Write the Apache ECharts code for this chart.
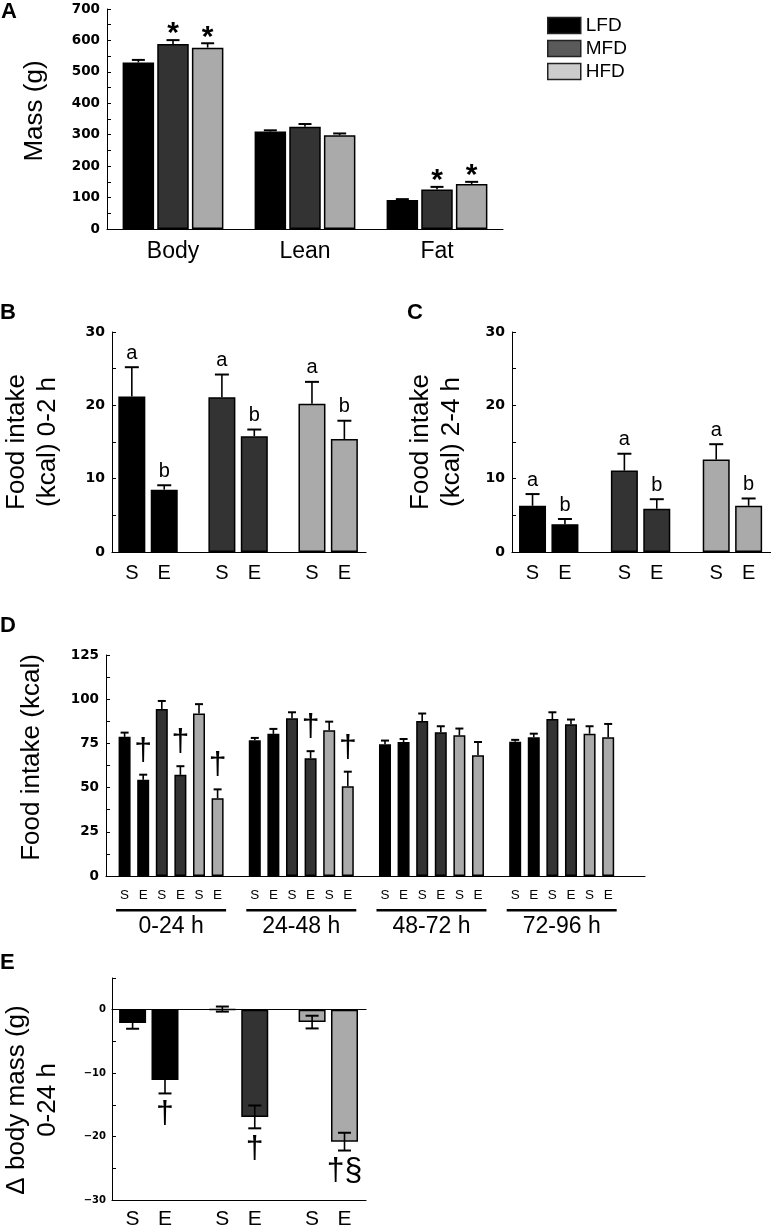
<!DOCTYPE html>
<html><head><meta charset="utf-8">
<script src="https://cdn.jsdelivr.net/npm/echarts@6/dist/echarts.min.js"></script>
<style>html,body{margin:0;padding:0;background:#fff}#c{width:771px;height:1230px}</style>
</head><body><div id="c"></div>
<script>
// ---------------- data ----------------
const diets = ['LFD', 'MFD', 'HFD'];
const barColors = ['#000000', '#333333', '#aaaaaa'];
const legendColors = ['#000000', '#5a5a5a', '#cccccc'];

// Panel A: mass (g)
const aCategories = ['Body', 'Lean', 'Fat'];
const aLFD = [530, 310, 92];
const aLFDerr = [8, 4, 3];
const aMFD = [589, 325, 126];
const aMFDerr = [12, 9, 8];
const aHFD = [577, 298, 143];
const aHFDerr = [14, 6, 7];
const aLFDsig = ['', '', ''];
const aMFDsig = ['*', '', '*'];
const aHFDsig = ['*', '', '*'];

// Panel B: food intake 0-2 h (kcal), S and E per diet
const bS = [21.2, 21.1, 20.2];
const bSerr = [4.0, 3.1, 3.0];
const bE = [8.5, 15.8, 15.4];
const bEerr = [0.6, 0.9, 2.5];
const bSsig = ['a', 'a', 'a'];
const bEsig = ['b', 'b', 'b'];

// Panel C: food intake 2-4 h (kcal)
const cS = [6.3, 11.1, 12.6];
const cSerr = [1.6, 2.3, 2.1];
const cE = [3.8, 5.9, 6.3];
const cEerr = [0.7, 1.3, 1.0];
const cSsig = ['a', 'a', 'a'];
const cEsig = ['b', 'b', 'b'];

// Panel D: daily food intake (kcal)
const dPeriods = ['0-24 h', '24-48 h', '48-72 h', '72-96 h'];
const dLFD_S = [78.7, 76.8, 74.5, 76.0];
const dLFD_Serr = [2.4, 1.3, 2.1, 1.0];
const dLFD_E = [54.5, 80.4, 75.8, 78.5];
const dLFD_Eerr = [2.8, 2.8, 1.7, 2.0];
const dMFD_S = [94.5, 89.2, 87.7, 88.8];
const dMFD_Serr = [4.5, 3.4, 4.2, 3.8];
const dMFD_E = [57.2, 66.6, 81.3, 85.8];
const dMFD_Eerr = [4.9, 4.0, 3.4, 2.7];
const dHFD_S = [91.9, 82.4, 79.6, 80.5];
const dHFD_Serr = [5.3, 4.9, 3.8, 4.2];
const dHFD_E = [44.0, 50.8, 68.3, 78.5];
const dHFD_Eerr = [5.0, 8.2, 7.5, 7.5];
const dLFD_Esig = ['†', '', '', ''];
const dMFD_Esig = ['†', '†', '', ''];
const dHFD_Esig = ['†', '†', '', ''];

// Panel E: change in body mass 0-24 h (g)
const eS = [-2.1, 0.1, -1.95];
const eSerr = [0.9, 0.4, 1.0];
const eE = [-11.1, -16.9, -20.8];
const eEerr = [2.1, 1.8, 1.4];
const eEsig = ['†', '†', '†§'];

// ---------------- helpers ----------------
const SANS = '"Liberation Sans", Arial, Helvetica, sans-serif';
const TICKF = '"DejaVu Sans", sans-serif';

function yAxis(grid, min, max, interval, every, fs, margin, name, nameGap, namePad) {
  return {
    type: 'value', gridIndex: grid, min, max, interval,
    axisLine: { show: true, onZero: false, lineStyle: { color: '#000', width: 1 } },
    axisTick: { show: true, inside: true, length: 4, lineStyle: { color: '#000', width: 1 } },
    splitLine: { show: false },
    axisLabel: {
      margin, fontSize: fs, fontWeight: 'bold', fontFamily: TICKF, color: '#000',
      showMaxLabel: true,
      formatter: v => (Math.abs(v % every) < 1e-9 ? String(v).replace('-', '\u2212') : '')
    },
    name, nameLocation: 'middle', nameRotate: 90, nameGap,
    nameTextStyle: { fontSize: 26, fontFamily: SANS, color: '#000', lineHeight: 31, padding: namePad || 0 }
  };
}
function valueX(grid, min, max, extra) {
  return Object.assign({
    type: 'value', gridIndex: grid, min, max,
    axisLine: { show: true, onZero: true, lineStyle: { color: '#000', width: 1.2 } },
    axisTick: { show: false }, axisLabel: { show: false }, splitLine: { show: false }
  }, extra || {});
}
function barSeries(name, axis, vals, colorOf, bw, gap, lbl, lblFont, lblTop) {
  return {
    type: 'bar', name, xAxisIndex: axis, yAxisIndex: axis,
    barWidth: bw, barGap: gap,
    data: vals.map((v, i) => ({ value: [i, v], itemStyle: { color: colorOf(i) } })),
    itemStyle: { borderColor: '#000', borderWidth: 1.5 },
    label: lbl ? { show: true, formatter: lbl, fontSize: lblFont, fontFamily: SANS, color: '#000' } : { show: false },
    labelLayout: lbl ? (p => ({ x: p.rect.x + p.rect.width / 2, y: lblTop, align: 'center', verticalAlign: 'top' })) : undefined,
    z: 2, silent: true
  };
}
function errSeries(axis, vals, errs, marks, offsetPx, cfg) {
  return {
    type: 'custom', xAxisIndex: axis, yAxisIndex: axis, clip: false, z: 5, silent: true,
    data: vals.map((v, i) => [i, v, errs[i]]),
    renderItem: (params, api) => {
      const x = api.value(0), v = api.value(1), e = api.value(2);
      const p0 = api.coord([x, v]);
      const cx = p0[0] + offsetPx;
      const pos = v >= 0;
      const outer = api.coord([x, pos ? v + e : v - e])[1];
      const inner = cfg.twoSided ? api.coord([x, pos ? v - e : v + e])[1] : p0[1];
      const h = cfg.capW / 2;
      const ch = [
        { type: 'line', shape: { x1: cx, y1: inner, x2: cx, y2: outer }, style: { stroke: '#000', lineWidth: cfg.lw } },
        { type: 'line', shape: { x1: cx - h, y1: outer, x2: cx + h, y2: outer }, style: { stroke: '#000', lineWidth: cfg.capLw } }
      ];
      if (cfg.twoSided) ch.push({ type: 'line', shape: { x1: cx - h, y1: inner, x2: cx + h, y2: inner }, style: { stroke: '#000', lineWidth: cfg.capLw } });
      const m = marks && marks[params.dataIndex];
      if (m) ch.push({ type: 'text', style: {
        text: m, x: cx, y: pos ? outer - cfg.markGap : outer + cfg.markGap,
        textAlign: 'center', textVerticalAlign: 'middle', font: cfg.markFont, fill: '#000' } });
      return { type: 'group', children: ch };
    }
  };
}
function offsets(n, bw, gapRatio) {
  const pitch = bw * (1 + gapRatio);
  return Array.from({ length: n }, (_, k) => (k - (n - 1) / 2) * pitch);
}

// ---------------- layout ----------------
const gA = { left: 107, top: 9, width: 396, height: 220 };
const gB = { left: 107, top: 332, width: 259, height: 220 };
const gC = { left: 512, top: 332, width: 259, height: 220 };
const gD = { left: 106, top: 655, width: 539, height: 221 };
const gE = { left: 107, top: 978, width: 259, height: 222 };

const A_BW = 31.5, A_GAP = 0.10;
const SE_BW = 27, SE_GAP = 0.20;
const D_BW = 12, D_GAP = 0.55;
const aOff = offsets(3, A_BW, A_GAP);
const seOff = offsets(2, SE_BW, SE_GAP);
const dOff = offsets(6, D_BW, D_GAP);

const cfgA = { capW: 13, lw: 1.6, capLw: 2, markGap: 6, markFont: 'bold 30px ' + SANS };
const cfgBC = { capW: 14, lw: 1.6, capLw: 2, markGap: 14, markFont: '20px ' + SANS };
const cfgD = { capW: 8, lw: 1.6, capLw: 2, markGap: 24, markFont: '32px ' + SANS };
const cfgE = { capW: 13, lw: 1.6, capLw: 2, markGap: 21, markFont: '32px ' + SANS, twoSided: true };

const dietColor = i => barColors[i];
const pct = r => Math.round(r * 100) + '%';

const series = [];
// A
[[aLFD, aLFDerr, aLFDsig], [aMFD, aMFDerr, aMFDsig], [aHFD, aHFDerr, aHFDsig]].forEach((s, k) => {
  series.push(barSeries(diets[k], 0, s[0], () => barColors[k], A_BW, pct(A_GAP)));
  series.push(errSeries(0, s[0], s[1], s[2], aOff[k], cfgA));
});
// B
series.push(barSeries('B S', 1, bS, dietColor, SE_BW, pct(SE_GAP), 'S', 20, gB.top + gB.height + 11));
series.push(barSeries('B E', 1, bE, dietColor, SE_BW, pct(SE_GAP), 'E', 20, gB.top + gB.height + 11));
series.push(errSeries(1, bS, bSerr, bSsig, seOff[0], cfgBC));
series.push(errSeries(1, bE, bEerr, bEsig, seOff[1], cfgBC));
// C
series.push(barSeries('C S', 2, cS, dietColor, SE_BW, pct(SE_GAP), 'S', 20, gC.top + gC.height + 11));
series.push(barSeries('C E', 2, cE, dietColor, SE_BW, pct(SE_GAP), 'E', 20, gC.top + gC.height + 11));
series.push(errSeries(2, cS, cSerr, cSsig, seOff[0], cfgBC));
series.push(errSeries(2, cE, cEerr, cEsig, seOff[1], cfgBC));
// D
const dSets = [
  [dLFD_S, dLFD_Serr, null, 0, 'S'], [dLFD_E, dLFD_Eerr, dLFD_Esig, 0, 'E'],
  [dMFD_S, dMFD_Serr, null, 1, 'S'], [dMFD_E, dMFD_Eerr, dMFD_Esig, 1, 'E'],
  [dHFD_S, dHFD_Serr, null, 2, 'S'], [dHFD_E, dHFD_Eerr, dHFD_Esig, 2, 'E']
];
dSets.forEach((s, k) => {
  series.push(barSeries('D ' + diets[s[3]] + ' ' + s[4], 3, s[0], () => barColors[s[3]], D_BW, pct(D_GAP), s[4], 13.5, gD.top + gD.height + 12));
});
dSets.forEach((s, k) => series.push(errSeries(3, s[0], s[1], s[2], dOff[k], cfgD)));
// E
series.push(barSeries('E S', 4, eS, dietColor, SE_BW, pct(SE_GAP), 'S', 21, gE.top + gE.height + 9));
series.push(barSeries('E E', 4, eE, dietColor, SE_BW, pct(SE_GAP), 'E', 21, gE.top + gE.height + 9));
series.push(errSeries(4, eS, eSerr, null, seOff[0], cfgE));
series.push(errSeries(4, eE, eEerr, eEsig, seOff[1], cfgE));

const titleStyle = { fontSize: 22, fontWeight: 'bold', fontFamily: SANS, color: '#000' };
const option = {
  animation: false,
  backgroundColor: '#fff',
  title: [
    { text: 'A', left: 1, top: 1 },
    { text: 'B', left: 0, top: 302 },
    { text: 'C', left: 407, top: 302 },
    { text: 'D', left: 0, top: 615 },
    { text: 'E', left: 0, top: 952 }
  ].map(t => Object.assign(t, { padding: 0, textStyle: titleStyle })),
  legend: {
    orient: 'vertical', left: 547, top: 16, padding: 0,
    itemWidth: 33, itemHeight: 16, itemGap: 4, selectedMode: false,
    textStyle: { fontSize: 19, fontFamily: SANS, color: '#000', lineHeight: 16 },
    data: diets.map((d, i) => ({ name: d, icon: 'rect', itemStyle: { color: legendColors[i], borderColor: '#222', borderWidth: 1.5 } }))
  },
  grid: [gA, gB, gC, gD, gE],
  xAxis: [
    { type: 'category', gridIndex: 0, data: aCategories,
      axisLine: { show: true, lineStyle: { color: '#000', width: 1.2 } }, axisTick: { show: false },
      axisLabel: { fontSize: 23, fontFamily: SANS, color: '#000', margin: 11 } },
    valueX(1, -0.4, 2.42),
    valueX(2, -0.4, 2.42),
    valueX(3, -0.5, 3.64),
    valueX(4, -0.41, 2.42),
    valueX(3, -0.5, 3.64, {
      position: 'bottom', axisLine: { show: false },
      axisLabel: {
        show: true, customValues: dPeriods.map((_, i) => i), margin: 33,
        formatter: v => '{line|}\n{t|' + dPeriods[v] + '}',
        rich: {
          line: { width: 110, height: 2.4, backgroundColor: '#000', align: 'center' },
          t: { fontSize: 23, lineHeight: 31, fontFamily: SANS, color: '#000', align: 'center' }
        }
      }
    }),
    valueX(4, -0.41, 2.42, { position: 'bottom', axisLine: { show: true, onZero: false, lineStyle: { color: '#000', width: 1.2 } } })
  ],
  yAxis: [
    yAxis(0, 0, 700, 50, 100, 13.5, 7, 'Mass (g)', 57, [0, 0, 0, 16]),
    yAxis(1, 0, 30, 5, 10, 14, 7, 'Food intake\n(kcal) 0-2 h', 49),
    yAxis(2, 0, 30, 5, 10, 14, 7, 'Food intake\n(kcal) 2-4 h', 45),
    yAxis(3, 0, 125, 12.5, 25, 13.5, 7, 'Food intake (kcal)', 59, [0, 0, 0, 16]),
    yAxis(4, -30, 5, 5, 10, 10, 6, 'Δ body mass (g)\n0-24 h', 49, [0, 22, 0, 0])
  ],
  series
};
const chart = echarts.init(document.getElementById('c'), null, { renderer: 'canvas' });
chart.setOption(option);
</script></body></html>
